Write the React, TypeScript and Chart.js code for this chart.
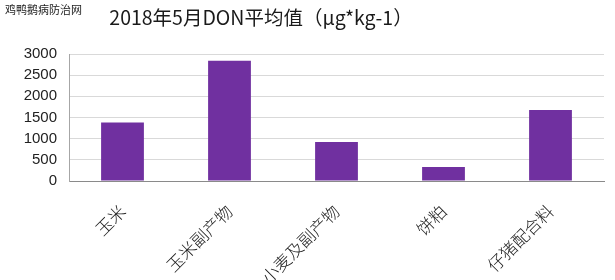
import React, { useEffect, useRef } from "react";
import { Chart, registerables } from "chart.js";

Chart.register(...registerables);

const categories = ["玉米", "玉米副产物", "小麦及副产物", "饼粕", "仔猪配合料"];
const donValues = [1380, 2840, 920, 330, 1680];
const titleText = "2018年5月DON平均值（μg*kg-1）";
const watermarkText = "鸡鸭鹅病防治网";

const textPlugin = {
  id: "textOverlay",
  afterDraw(chart: any) {
    const ctx = chart.ctx;
    ctx.save();
    ctx.fillStyle = "#1a1a1a";
    ctx.textAlign = "center";
    ctx.textBaseline = "alphabetic";
    ctx.font = '19.5px "Noto Sans CJK SC", "Liberation Sans", sans-serif';
    ctx.fillText(titleText, 261, 25);
    ctx.textAlign = "left";
    ctx.fillStyle = "#222";
    ctx.font = '11px "Noto Sans CJK SC", sans-serif';
    ctx.fillText(watermarkText, 5, 14);
    ctx.restore();
  },
};

export default function App() {
  const ref = useRef<HTMLCanvasElement>(null);
  useEffect(() => {
    document.body.style.margin = "0";
    const chart = new Chart(ref.current!, {
      type: "bar",
      data: {
        labels: categories,
        datasets: [
          {
            data: donValues,
            backgroundColor: "#7030A0",
            barPercentage: 0.4,
            categoryPercentage: 1,
          },
        ],
      },
      options: {
        animation: false,
        responsive: false,
        maintainAspectRatio: false,
        layout: { padding: { left: 0, right: 11, top: 54, bottom: 0 } },
        plugins: {
          legend: { display: false },
          title: { display: false },
          tooltip: { enabled: false },
        },
        scales: {
          x: {
            afterFit: (s: any) => {
              s.height = 99;
            },
            grid: { display: false, drawTicks: false },
            border: { color: "#8a8a8a", width: 1 },
            ticks: {
              minRotation: 45,
              maxRotation: 45,
              autoSkip: false,
              padding: 20,
              color: "#222",
              font: { family: '"Noto Sans CJK SC", sans-serif', size: 17, weight: "300" },
            },
          },
          y: {
            min: 0,
            max: 3000,
            afterFit: (s: any) => {
              s.width = 69;
            },
            grid: { color: "#d9d9d9", drawTicks: false },
            border: { color: "#a6a6a6", width: 1 },
            ticks: {
              stepSize: 500,
              padding: 12,
              color: "#222",
              callback: (v: any) => String(v),
              font: { family: '"Liberation Sans", sans-serif', size: 15 },
            },
          },
        },
      },
      plugins: [textPlugin],
    });
    return () => chart.destroy();
  }, []);
  return (
    <div style={{ position: "fixed", left: 0, top: 0, width: 615, height: 280, background: "#fff" }}>
      <canvas ref={ref} width={615} height={280} style={{ display: "block" }} />
    </div>
  );
}
